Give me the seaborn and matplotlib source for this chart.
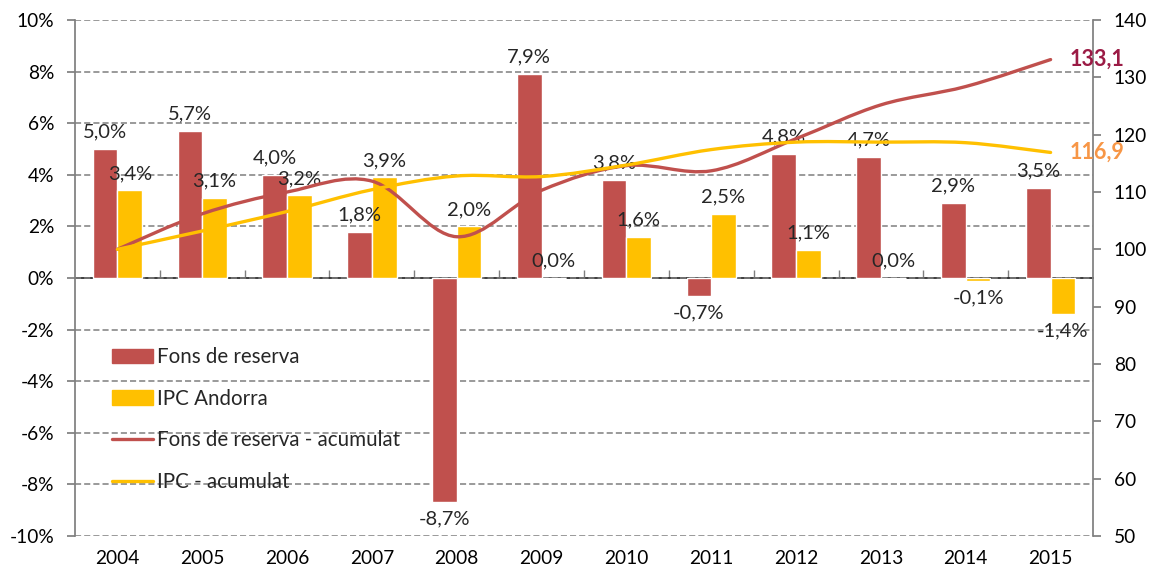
import numpy as np
import pandas as pd
import matplotlib.pyplot as plt
import seaborn as sns
from matplotlib.path import Path
from matplotlib.patches import PathPatch, Patch
from matplotlib.lines import Line2D
from matplotlib.ticker import FuncFormatter, MultipleLocator, NullFormatter

# Values
years = ['2004', '2005', '2006', '2007', '2008', '2009',
         '2010', '2011', '2012', '2013', '2014', '2015']
fons_reserva = [5.0, 5.7, 4.0, 1.8, -8.7, 7.9, 3.8, -0.7, 4.8, 4.7, 2.9, 3.5]
ipc_andorra = [3.4, 3.1, 3.2, 3.9, 2.0, 0.0, 1.6, 2.5, 1.1, 0.0, -0.1, -1.4]
fons_acumulat = [100.0, 106.2, 110.0, 111.9, 102.2, 110.3, 114.6, 113.7, 119.3, 125.2, 128.4, 133.1]
ipc_acumulat = [100.0, 103.2, 106.6, 110.4, 112.8, 112.7, 114.7, 117.4, 118.7, 118.7, 118.6, 116.9]

bar_names = ['Fons de reserva', 'IPC Andorra']
line_names = ['Fons de reserva - acumulat', 'IPC - acumulat']

RED = '#C0504D'
YELLOW = '#FFC000'
GREY = '#7F7F7F'

sns.set_theme(style="white")
plt.rcParams['font.family'] = ['Lato', 'DejaVu Sans']
FS_TICK = 13.8
FS_LABEL = 14.5
FS_LEGEND = 14.8


def pct(v):
    return f"{v:.1f}%".replace('.', ',')


def smooth_path(xs, ys):
    # Excel-like smoothed line: cubic Bezier through each data point
    pts = np.column_stack([xs, ys]).astype(float)
    n = len(pts)
    verts = [pts[0]]
    codes = [Path.MOVETO]
    for i in range(n - 1):
        p0 = pts[max(i - 1, 0)]
        p1 = pts[i]
        p2 = pts[i + 1]
        p3 = pts[min(i + 2, n - 1)]
        verts += [p1 + (p2 - p0) / 6, p2 - (p3 - p1) / 6, p2]
        codes += [Path.CURVE4] * 3
    return Path(verts, codes)


df = pd.DataFrame({
    'year': years * 2,
    'serie': [bar_names[0]] * len(years) + [bar_names[1]] * len(years),
    'value': fons_reserva + ipc_andorra,
})

fig = plt.figure(figsize=(11.57, 5.75), dpi=100)
ax = fig.add_axes([0.0648, 0.0678, 0.8799, 0.8974])

sns.barplot(data=df, x='year', y='value', hue='serie', hue_order=bar_names,
            palette={bar_names[0]: RED, bar_names[1]: YELLOW},
            width=0.58, gap=0, saturation=1, legend=False, ax=ax)

for cont, vals in zip(ax.containers, [fons_reserva, ipc_andorra]):
    ax.bar_label(cont, labels=[pct(v) for v in vals], padding=6, fontsize=FS_LABEL)

ax.set_ylim(-10, 10)
ax.yaxis.set_major_locator(MultipleLocator(2))
ax.yaxis.set_major_formatter(FuncFormatter(lambda v, p: f"{int(round(v))}%"))
ax.set_xlim(-0.5, len(years) - 0.5)
ax.set_xlabel('')
ax.set_ylabel('')
ax.yaxis.grid(True, linestyle=(0, (4, 2)), color=GREY, lw=1.1)
ax.set_axisbelow(True)
for s in ['top', 'right', 'bottom']:
    ax.spines[s].set_visible(False)
ax.spines['left'].set_color(GREY)
ax.tick_params(axis='y', left=True, direction='out', length=6, color=GREY,
               pad=9, labelsize=FS_TICK, labelcolor='black')
ax.tick_params(axis='x', length=0, pad=10, labelsize=FS_TICK, labelcolor='black')

# category axis line at zero with boundary ticks
sec = ax.secondary_xaxis(0.5)
sec.set_xticks(np.arange(len(years) - 1) + 0.5)
sec.xaxis.set_major_formatter(NullFormatter())
sec.tick_params(axis='x', direction='out', length=6, width=1, color=GREY)
sec.spines['bottom'].set_color(GREY)
sec.spines['bottom'].set_linewidth(1.2)

# cumulative index on the right axis
ax2 = ax.twinx()
ax2.set_ylim(50, 140)
ax2.yaxis.set_major_locator(MultipleLocator(10))
for s in ['top', 'left', 'bottom']:
    ax2.spines[s].set_visible(False)
ax2.spines['right'].set_color(GREY)
ax2.tick_params(axis='y', right=True, direction='out', length=6, color=GREY,
                pad=9, labelsize=FS_TICK, labelcolor='black')
ax2.grid(False)

xs = np.arange(len(years))
for vals, color in [(fons_acumulat, RED), (ipc_acumulat, YELLOW)]:
    ax2.add_patch(PathPatch(smooth_path(xs, vals), facecolor='none',
                            edgecolor=color, lw=2.4, capstyle='round'))

ax2.annotate(f"{fons_acumulat[-1]:.1f}".replace('.', ','), (xs[-1], fons_acumulat[-1]),
             xytext=(14, 0), textcoords='offset points', ha='left', va='center',
             fontsize=15.5, fontweight='bold', color='#9B1B45')
ax2.annotate(f"{ipc_acumulat[-1]:.1f}".replace('.', ','), (xs[-1], ipc_acumulat[-1]),
             xytext=(14, 0), textcoords='offset points', ha='left', va='center',
             fontsize=15.5, fontweight='bold', color='#F79646')

handles = [Patch(color=RED), Patch(color=YELLOW),
           Line2D([], [], color=RED, lw=2.4), Line2D([], [], color=YELLOW, lw=2.4)]
ax2.legend(handles, bar_names + line_names, loc='lower left',
           bbox_to_anchor=(0.018, 0.05), frameon=False, fontsize=FS_LEGEND,
           labelspacing=1.05, handlelength=2.0, handletextpad=0.2)

plt.savefig('out.png', dpi=100)
